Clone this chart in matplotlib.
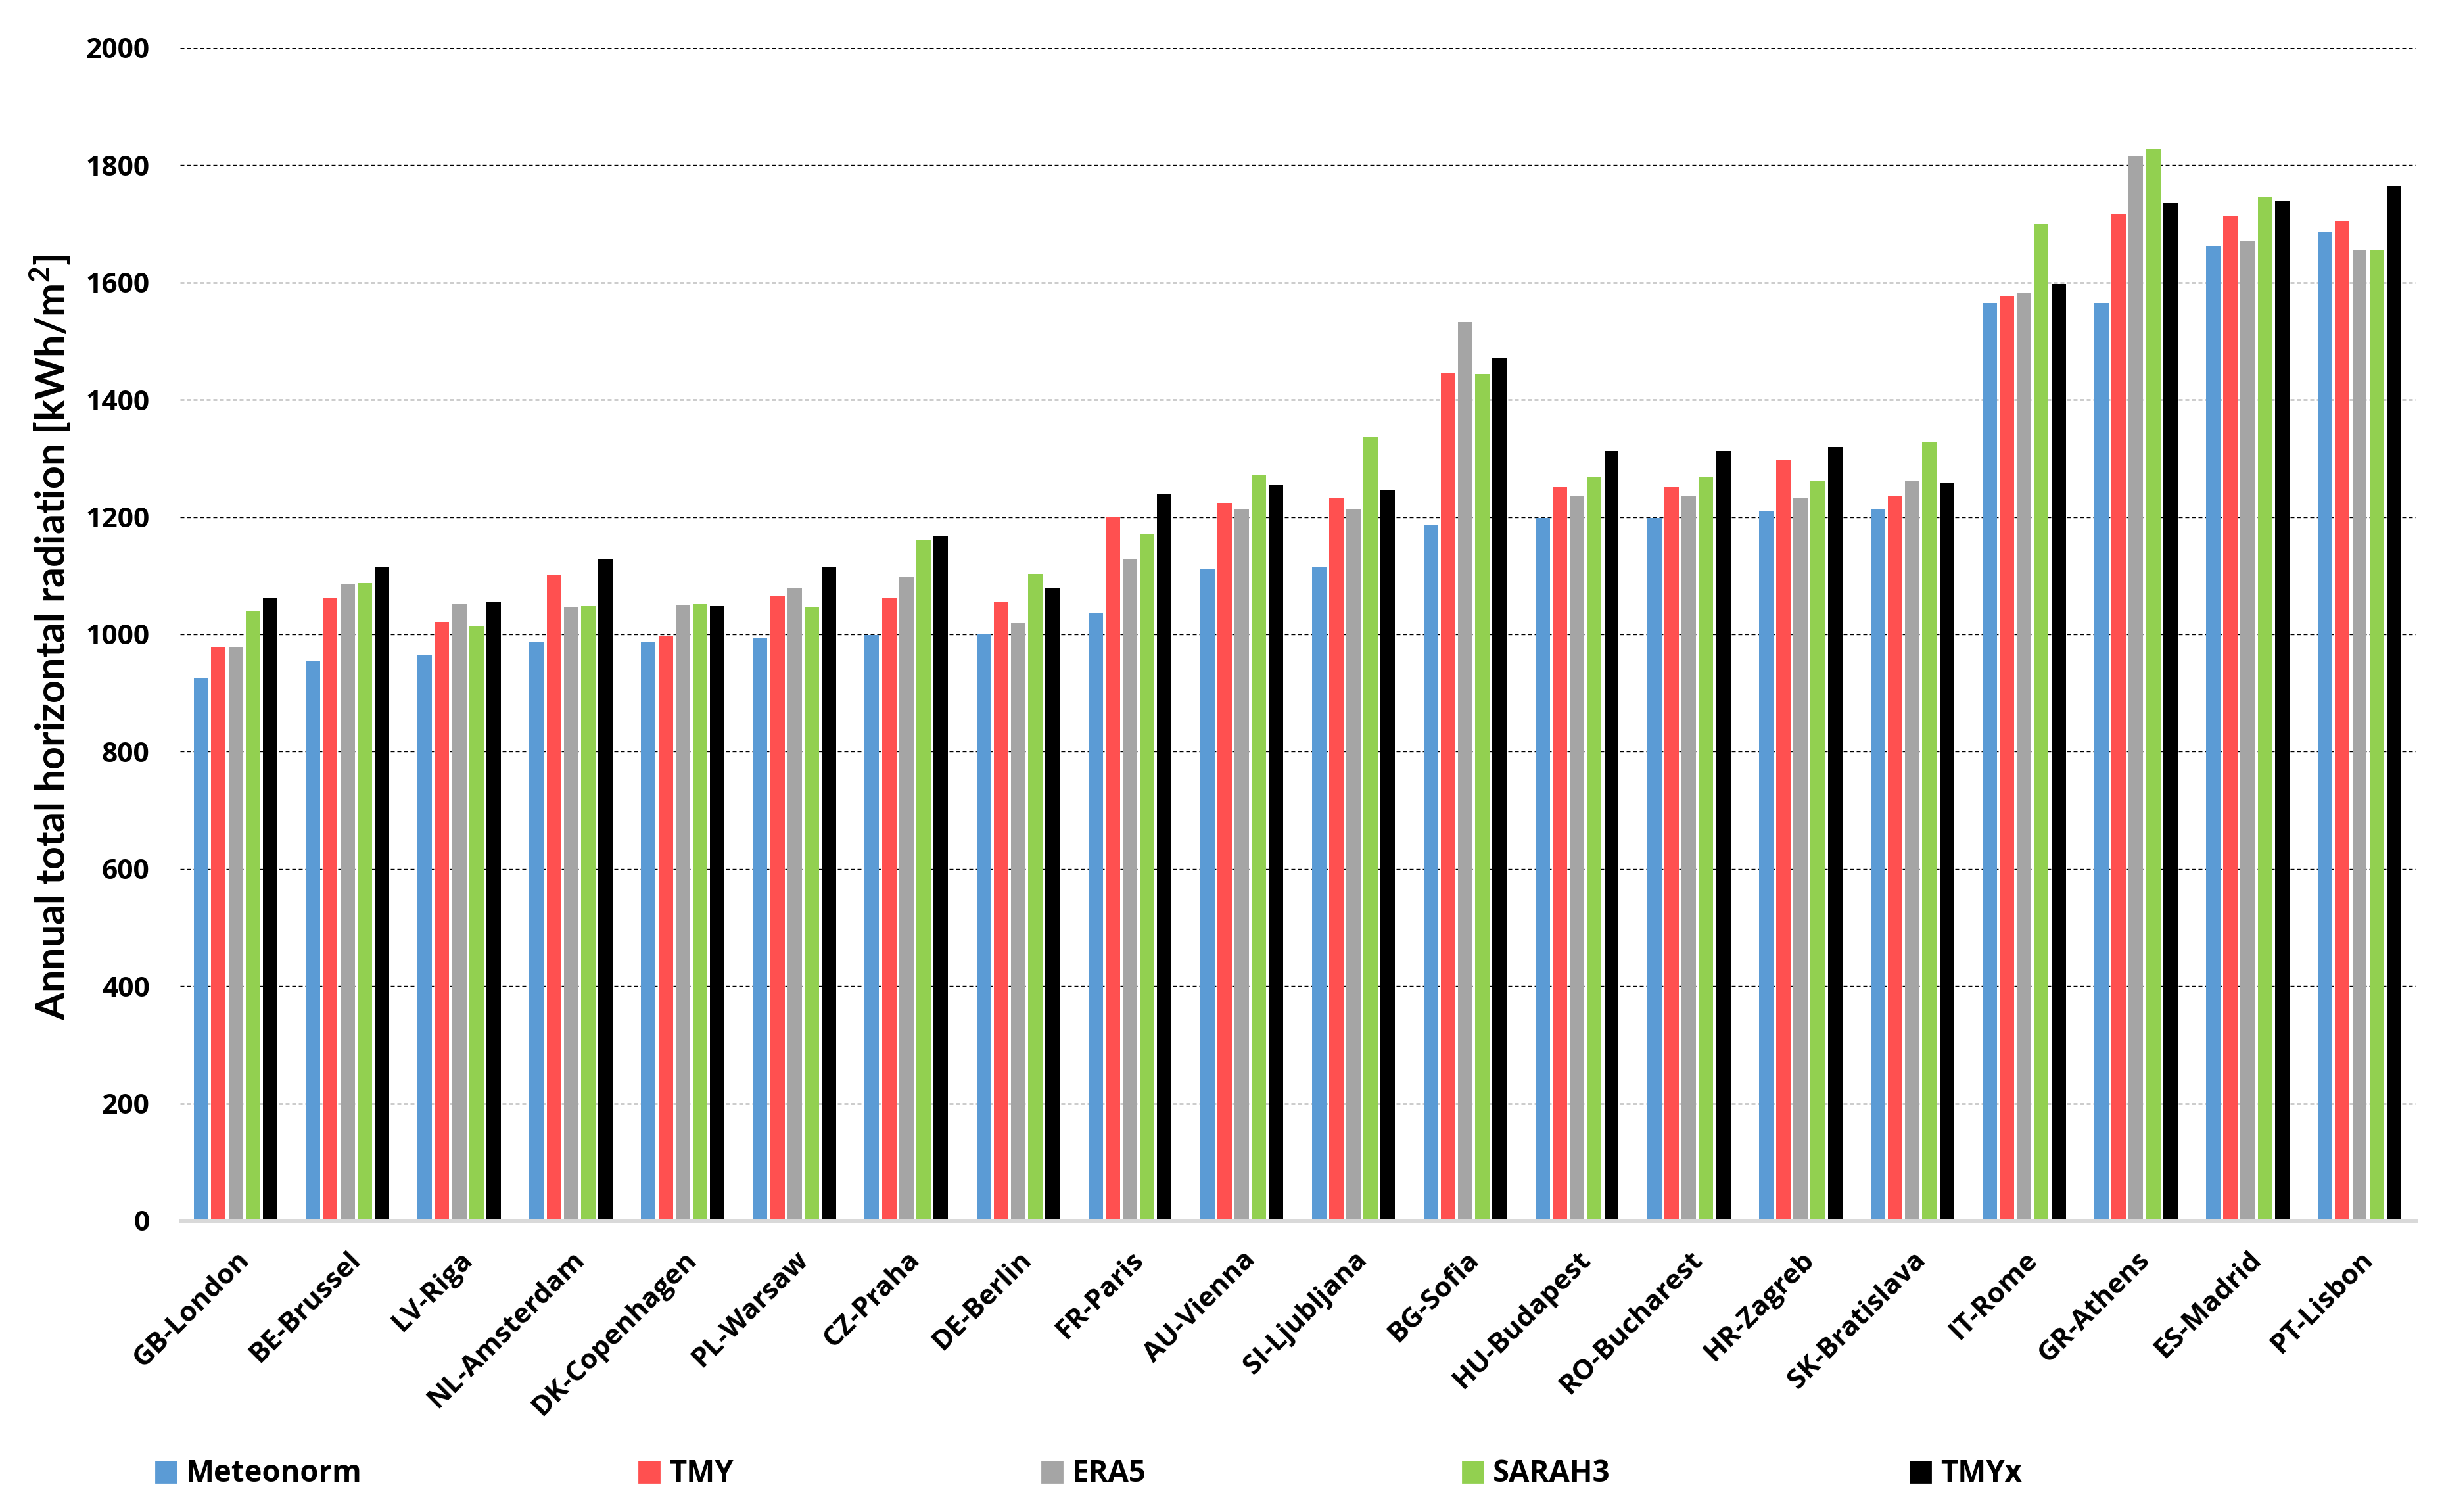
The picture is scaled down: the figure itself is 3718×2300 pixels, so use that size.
import matplotlib
matplotlib.use("Agg")
import matplotlib.pyplot as plt
import matplotlib.patches as mpatches
import numpy as np

cities = ["GB-London", "BE-Brussel", "LV-Riga", "NL-Amsterdam", "DK-Copenhagen",
          "PL-Warsaw", "CZ-Praha", "DE-Berlin", "FR-Paris", "AU-Vienna",
          "SI-Ljubljana", "BG-Sofia", "HU-Budapest", "RO-Bucharest", "HR-Zagreb",
          "SK-Bratislava", "IT-Rome", "GR-Athens", "ES-Madrid", "PT-Lisbon"]

meteonorm = [925, 954, 965, 987, 988, 994, 999, 1001, 1037, 1112,
             1114, 1186, 1198, 1198, 1210, 1213, 1565, 1565, 1663, 1686]
tmy = [979, 1062, 1021, 1101, 997, 1065, 1063, 1056, 1200, 1224,
       1232, 1445, 1251, 1251, 1297, 1235, 1577, 1717, 1714, 1705]
era5 = [979, 1085, 1052, 1046, 1051, 1080, 1099, 1020, 1128, 1214,
        1213, 1532, 1235, 1235, 1232, 1262, 1583, 1815, 1672, 1656]
sarah3 = [1040, 1088, 1013, 1048, 1052, 1046, 1160, 1103, 1172, 1271,
          1338, 1444, 1269, 1269, 1262, 1328, 1701, 1827, 1747, 1656]
tmyx = [1063, 1116, 1056, 1128, 1048, 1116, 1167, 1078, 1239, 1254,
        1245, 1472, 1313, 1313, 1320, 1258, 1598, 1735, 1740, 1765]

series_names = ["Meteonorm", "TMY", "ERA5", "SARAH3", "TMYx"]
series_values = [meteonorm, tmy, era5, sarah3, tmyx]
colors = ["#5B9BD5", "#FF5050", "#A5A5A5", "#92D050", "#000000"]

W, H, DPI = 3718, 2300, 200
fig = plt.figure(figsize=(W / DPI, H / DPI), dpi=DPI)
ax_l, ax_r, ax_t, ax_b = 273.5, 3674.5, 73, 1857
ax = fig.add_axes([ax_l / W, 1 - ax_b / H, (ax_r - ax_l) / W, (ax_b - ax_t) / H])

x = np.arange(len(cities))
step = 0.154
width = 0.129
for i, (name, vals, c) in enumerate(zip(series_names, series_values, colors)):
    ax.bar(x + (i - 2) * step, vals, width=width, color=c, label=name, zorder=3)

ax.set_xlim(-0.5, len(cities) - 0.5)
ax.set_ylim(0, 2000)
ax.set_yticks(np.arange(0, 2001, 200))
ax.yaxis.grid(True, linestyle=(0, (4.3, 2.9)), color="#000000", linewidth=0.5, zorder=0)
ax.set_axisbelow(True)
for s in ["top", "right", "left"]:
    ax.spines[s].set_visible(False)
ax.spines["bottom"].set_color("#D9D9D9")
ax.spines["bottom"].set_linewidth(1.8)
ax.spines["bottom"].set_zorder(4)

tick_fam = ["Open Sans", "DejaVu Sans"]
ax.tick_params(axis="y", length=0, pad=16.5, labelsize=15.3)
ax.tick_params(axis="x", length=0, pad=14, labelsize=15.2)
for lbl in ax.get_yticklabels():
    lbl.set_fontweight("bold")
    lbl.set_family(tick_fam)
ax.set_xticks(x)
ax.set_xticklabels(cities, rotation=45, ha="right", rotation_mode="anchor",
                   fontweight="bold", family=tick_fam)

# y label, fitted to the reference length
ylab = fig.text(77 / W, 1 - 970 / H,
                "Annual total horizontal radiation [kWh/m$^\\mathregular{2}$]",
                rotation=90, ha="center", va="center", fontsize=22,
                family=["Lato", "DejaVu Sans"], fontweight="bold")
fig.canvas.draw()
ext = ylab.get_window_extent()
if ext.height > 0:
    ylab.set_fontsize(22 * 1166 / ext.height)

# legend entries positioned individually
leg_x = [237, 972, 1585, 2225, 2906]
for name, c, lx in zip(series_names, colors, leg_x):
    h = mpatches.Patch(color=c, label=name)
    fig.legend(handles=[h], loc="center left",
               bbox_to_anchor=(lx / W, 1 - 2242 / H), frameon=False,
               prop={"weight": "bold", "size": 16.4, "family": tick_fam},
               handlelength=0.68, handleheight=0.70, handletextpad=0.33,
               borderaxespad=0, borderpad=0)

fig.savefig("out.png", dpi=DPI)
